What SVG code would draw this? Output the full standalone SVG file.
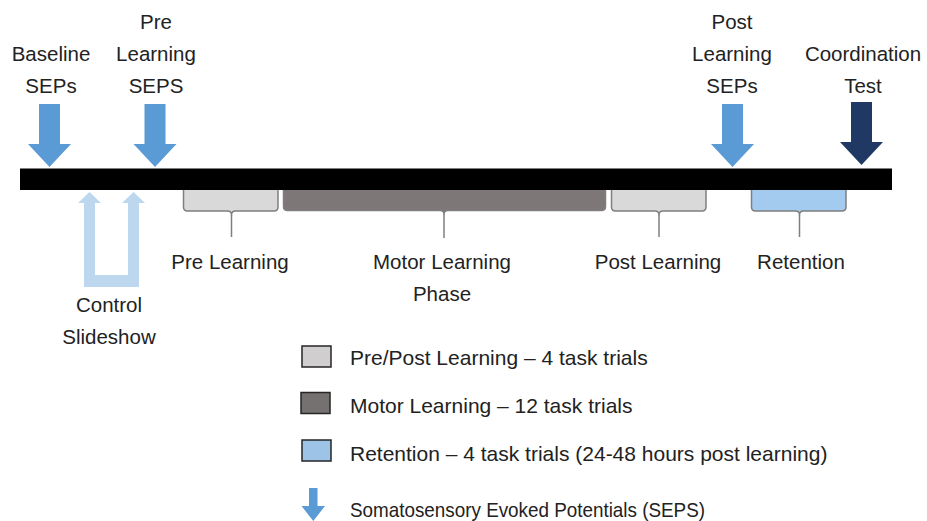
<svg xmlns="http://www.w3.org/2000/svg" width="927" height="521" viewBox="0 0 927 521">
<style>
text{font-family:"Liberation Sans",Arial,sans-serif;font-size:20.5px;fill:#222;}
.c{text-anchor:middle;}
.lg{font-size:21px;}
.sep{fill:#5B9BD5;}
.brace{stroke:#7F7F7F;stroke-width:1.5;stroke-linejoin:round;}
.stem{stroke:#7F7F7F;stroke-width:1.5;fill:none;}
.lbox{stroke:#262626;stroke-width:1.5;}
</style>
<defs>
<path id="dn" d="M-10.5,0 H10.5 V40 H21.5 L0,63 L-21.5,40 H-10.5 Z"/>
</defs>
<rect width="927" height="521" fill="#fff"/>

<g id="pre-learning">
<path class="brace" fill="#D9D9D9" d="M183.5,188 V207 Q183.5,211 187.5,211 H227.5 Q231.5,211 231.5,215 Q231.5,211 235.5,211 H274 Q278,211 278,207 V188 Z"/>
<line class="stem" x1="231.5" y1="215" x2="231.5" y2="237"/>
<text class="c" x="230" y="269">Pre Learning</text>
</g>
<g id="motor-learning">
<path class="brace" fill="#7D7777" stroke="#666" d="M283.5,188 V206.5 Q283.5,210.5 287.5,210.5 H440 Q444,210.5 444,214.5 Q444,210.5 448,210.5 H601.5 Q605.5,210.5 605.5,206.5 V188 Z"/>
<line class="stem" x1="444" y1="214.5" x2="444" y2="238"/>
<text class="c" x="442" y="269">Motor Learning</text>
<text class="c" x="442" y="301">Phase</text>
</g>
<g id="post-learning">
<path class="brace" fill="#D9D9D9" d="M611.5,188 V207 Q611.5,211 615.5,211 H655 Q659,211 659,215 Q659,211 663,211 H702 Q706,211 706,207 V188 Z"/>
<line class="stem" x1="659" y1="215" x2="659" y2="237"/>
<text class="c" x="658" y="269">Post Learning</text>
</g>
<g id="retention">
<path class="brace" fill="#A3CBEF" d="M751.5,188 V207 Q751.5,211 755.5,211 H795.5 Q799.5,211 799.5,215 Q799.5,211 803.5,211 H842 Q846,211 846,207 V188 Z"/>
<line class="stem" x1="799.5" y1="215" x2="799.5" y2="237"/>
<text class="c" x="801" y="269">Retention</text>
</g>

<g id="timeline">
<rect x="20" y="168.5" width="872" height="21.5" fill="#000"/>
</g>

<g id="baseline-seps">
<text class="c" x="51" y="61">Baseline</text>
<text class="c" x="51" y="93">SEPs</text>
<use href="#dn" class="sep" transform="translate(49.5,104)"/>
</g>
<g id="pre-learning-seps">
<text class="c" x="156" y="29">Pre</text>
<text class="c" x="156" y="61">Learning</text>
<text class="c" x="156" y="93">SEPS</text>
<use href="#dn" class="sep" transform="translate(155,104)"/>
</g>
<g id="post-learning-seps">
<text class="c" x="732" y="29">Post</text>
<text class="c" x="732" y="61">Learning</text>
<text class="c" x="732" y="93">SEPs</text>
<use href="#dn" class="sep" transform="translate(732.5,104)"/>
</g>
<g id="coordination-test">
<text class="c" x="863" y="61">Coordination</text>
<text class="c" x="863" y="93">Test</text>
<use href="#dn" fill="#203864" transform="translate(861.5,102)"/>
</g>

<g id="control-slideshow">
<path fill="#BDD7EE" d="M84,287 V203 H78 L89.5,192 L101,203 H95 V275 H128 V203 H122 L133.5,192 L145,203 H139 V287 Z"/>
<text class="c" x="109" y="312">Control</text>
<text class="c" x="109" y="344">Slideshow</text>
</g>

<g id="legend">
<rect class="lbox" x="302" y="346" width="29" height="21" fill="#D0CECE"/>
<text class="lg" x="350" y="365">Pre/Post Learning – 4 task trials</text>
<rect class="lbox" x="301" y="392.5" width="29" height="21" fill="#767171"/>
<text class="lg" x="350" y="413">Motor Learning – 12 task trials</text>
<rect class="lbox" x="302" y="440" width="29" height="21" fill="#9DC3E6"/>
<text class="lg" x="350" y="461">Retention – 4 task trials (24-48 hours post learning)</text>
<path class="sep" d="M309,488 H317.5 V506 H325 L313.25,521 L301.5,506 H309 Z"/>
<text class="lg" x="350" y="517" textLength="355" lengthAdjust="spacingAndGlyphs">Somatosensory Evoked Potentials (SEPS)</text>
</g>
</svg>
